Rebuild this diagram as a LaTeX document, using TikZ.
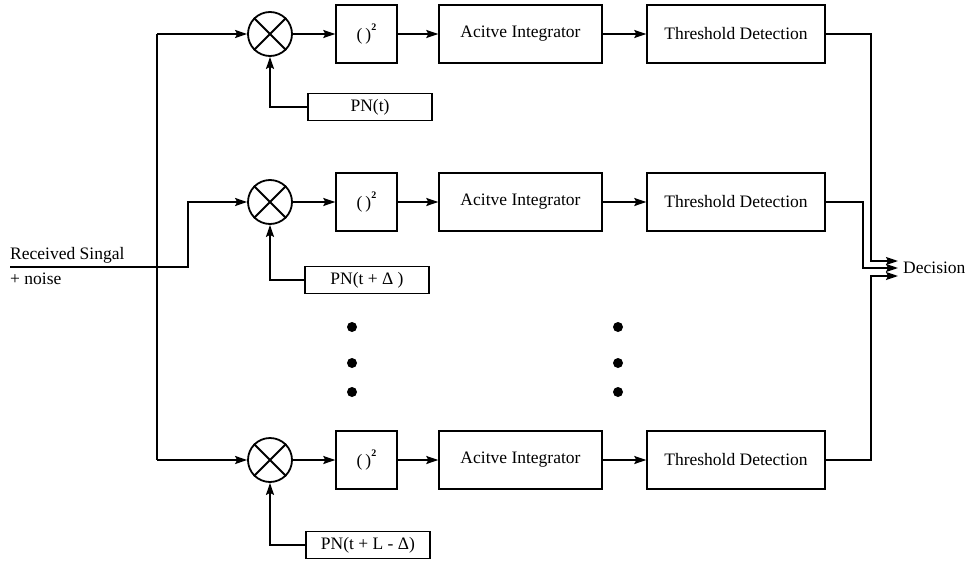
\documentclass[tikz,border=0pt]{standalone}
\usepackage{fontspec}
\setmainfont{Liberation Serif}
\usetikzlibrary{arrows.meta}
\begin{document}
\begin{tikzpicture}[x=1pt,y=-1pt,
  wire/.style={line width=1.7pt},
  arr/.style={wire,-{Stealth[length=12pt,width=8pt,inset=2pt]}},
  txt/.style={font=\fontsize{17.5}{19}\selectfont},
  blk/.style={draw,line width=1.4pt,minimum height=58pt,inner sep=0pt,txt},
  mult/.style={draw,circle,line width=1.8pt,minimum size=44pt,inner sep=0pt},
  pnbox/.style={draw,line width=1.4pt,minimum width=124pt,minimum height=27pt,
    inner sep=0pt,txt},
  lbl/.style={txt,inner sep=0pt},
  bigdot/.style={circle,fill,minimum size=10pt,inner sep=0pt}]
\useasboundingbox (0,0) rectangle (969,562);

% three correlator branches
\foreach \r/\y in {1/34,2/202,3/460}{
  \node[mult] (m\r) at (270,\y) {};
  \draw[line width=1.8pt] (m\r.north west) -- (m\r.south east)
                          (m\r.north east) -- (m\r.south west);
  \node[blk,minimum width=61pt] (sq\r) at (366.5,\y)
    {(\hspace{3pt})\raisebox{10pt}{\fontsize{10}{10}\selectfont\bfseries 2}};
  \node[blk,minimum width=163pt] (int\r) at (520.5,\y) {Acitve Integrator};
  \node[blk,minimum width=178pt] (thr\r) at (736,\y) {Threshold Detection};
  \draw[arr] (m\r) -- (sq\r);
  \draw[arr] (sq\r) -- (int\r);
  \draw[arr] (int\r) -- (thr\r);
}

% PN code generators
\node[pnbox] (pn1) at (370,107) {PN(t)};
\node[pnbox] (pn2) at (367,280) {PN(t + Δ )};
\node[pnbox] (pn3) at (368,545) {PN(t + L - Δ)};
\foreach \r in {1,2,3}{
  \draw[arr] (pn\r.west) -| (m\r.south);
}

% input signal and distribution bus
\node[lbl,anchor=south west] (rx) at (10,263) {Received Singal};
\node[lbl,anchor=north west] (nz) at (10,273) {+ noise};
\coordinate (in) at (10,267);
\coordinate (bend) at (188,267);
\coordinate (bt) at (157,34);
\coordinate (bb) at (157,460);
\draw[arr] (in) -- (bend) |- (m2.west);
\draw[wire] (bt) -- (bb);
\draw[arr] (bt) -- (m1.west);
\draw[arr] (bb) -- (m3.west);

% continuation dots
\foreach \x in {352,618}{
  \foreach \y in {327,363,392}{
    \node[bigdot] at (\x,\y) {};
  }
}

% outputs merged into the decision
\coordinate (d1) at (898,261);
\coordinate (d2) at (898,268);
\coordinate (d3) at (898,276);
\draw[arr] (thr1.east) -- ++(45,0) |- (d1);
\draw[arr] (thr2.east) -- ++(37,0) |- (d2);
\draw[arr] (thr3.east) -- ++(45,0) |- (d3);
\node[lbl,anchor=west] (dec) at (903,268) {Decision};
\end{tikzpicture}
\end{document}
